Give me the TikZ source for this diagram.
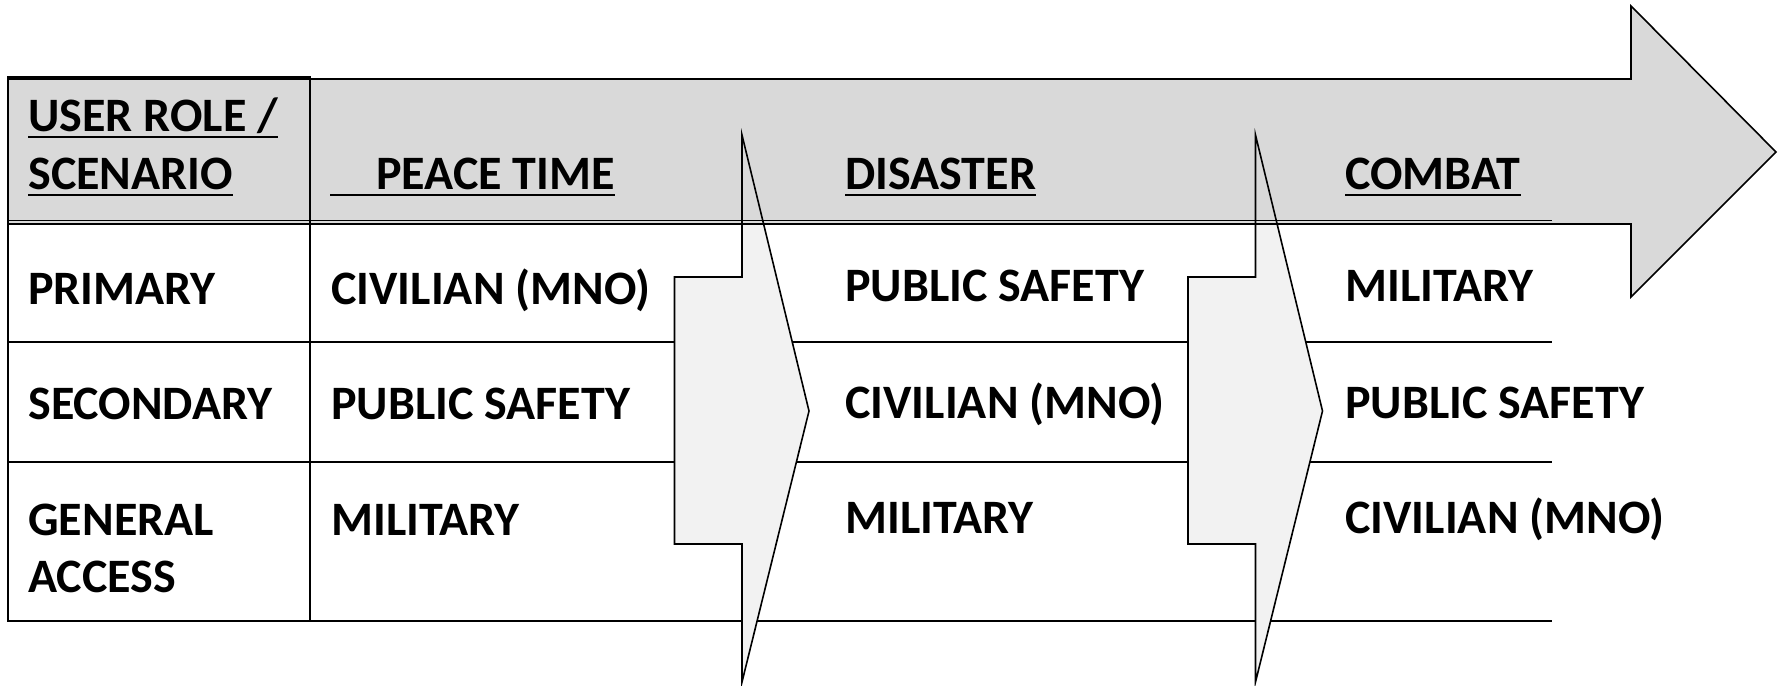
\documentclass[tikz,border=0pt]{standalone}
\usepackage{fontspec}
\setmainfont{Carlito}
\usepackage{tikz}
\usetikzlibrary{positioning}
\definecolor{hdrgray}{RGB}{217,217,217}
\definecolor{chevgray}{RGB}{242,242,242}

\begin{document}
\begin{tikzpicture}[x=0.5pt,y=-0.5pt,
    txt/.style={inner sep=0pt,anchor=base west,font=\fontsize{24}{29}\selectfont\bfseries},
    ulline/.style={line width=1pt},
    thinline/.style={line width=0.6pt},
    frame/.style={line width=1.3pt}]
    \useasboundingbox (0,0) rectangle (1781,685);
    % row lines
    \foreach \y in {342,462,621} \draw[thinline] (8,\y) -- (1552,\y);
    % chevron fills
    \foreach \dx in {0,513.5}
      \fill[chevgray] (742+\dx,135) -- (809+\dx,411) -- (742+\dx,682) -- (742+\dx,544) -- (674.5+\dx,544) -- (674.5+\dx,277) -- (742+\dx,277) -- cycle;
    % big arrow
    \draw[fill=hdrgray,line width=0.8pt] (8,79) -- (1631,79) -- (1631,6) -- (1776,152) -- (1631,297) -- (1631,224) -- (8,224) -- cycle;
    \draw[thinline] (8,220.5) -- (1552,220.5);
    % first column
    \draw[frame] (8,77) rectangle (310,621);
    % chevron outlines
    \foreach \dx in {0,513.5}
      \draw[line width=0.8pt] (742+\dx,135) -- (809+\dx,411) -- (742+\dx,682) -- (742+\dx,544) -- (674.5+\dx,544) -- (674.5+\dx,277) -- (742+\dx,277) -- cycle;

    % header
    \node[txt] (role1) at (28,131) {USER ROLE /};
    \node[txt] (role2) at (28,189) {SCENARIO};
    \node[txt] (peace) at (330,189) {\hspace*{23pt}PEACE TIME};
    \node[txt] (dis) at (845,189) {DISASTER};
    \node[txt] (com) at (1345,189) {COMBAT};
    \foreach \n in {role1,role2,peace,dis,com}
      \draw[ulline] ([yshift=-3pt]\n.base west) -- ([yshift=-3pt]\n.base east);

    % rows
    \node[txt] (prim) at (28,304) {PRIMARY};
    \node[txt] (sec) at (28,419) {SECONDARY};
    \node[txt] (gen) at (28,535) {GENERAL};
    \node[txt] (acc) at (28,592) {ACCESS};
    \node[txt] (pt1) at (331,304) {CIVILIAN (MNO)};
    \node[txt] (pt2) at (331,419) {PUBLIC SAFETY};
    \node[txt] (pt3) at (331,535) {MILITARY};
    \node[txt] (ds1) at (845,301) {PUBLIC SAFETY};
    \node[txt] (ds2) at (845,418) {CIVILIAN (MNO)};
    \node[txt] (ds3) at (845,533) {MILITARY};
    \node[txt] (cb1) at (1345,301) {MILITARY};
    \node[txt] (cb2) at (1345,418) {PUBLIC SAFETY};
    \node[txt] (cb3) at (1345,533) {CIVILIAN (MNO)};
\end{tikzpicture}
\end{document}
